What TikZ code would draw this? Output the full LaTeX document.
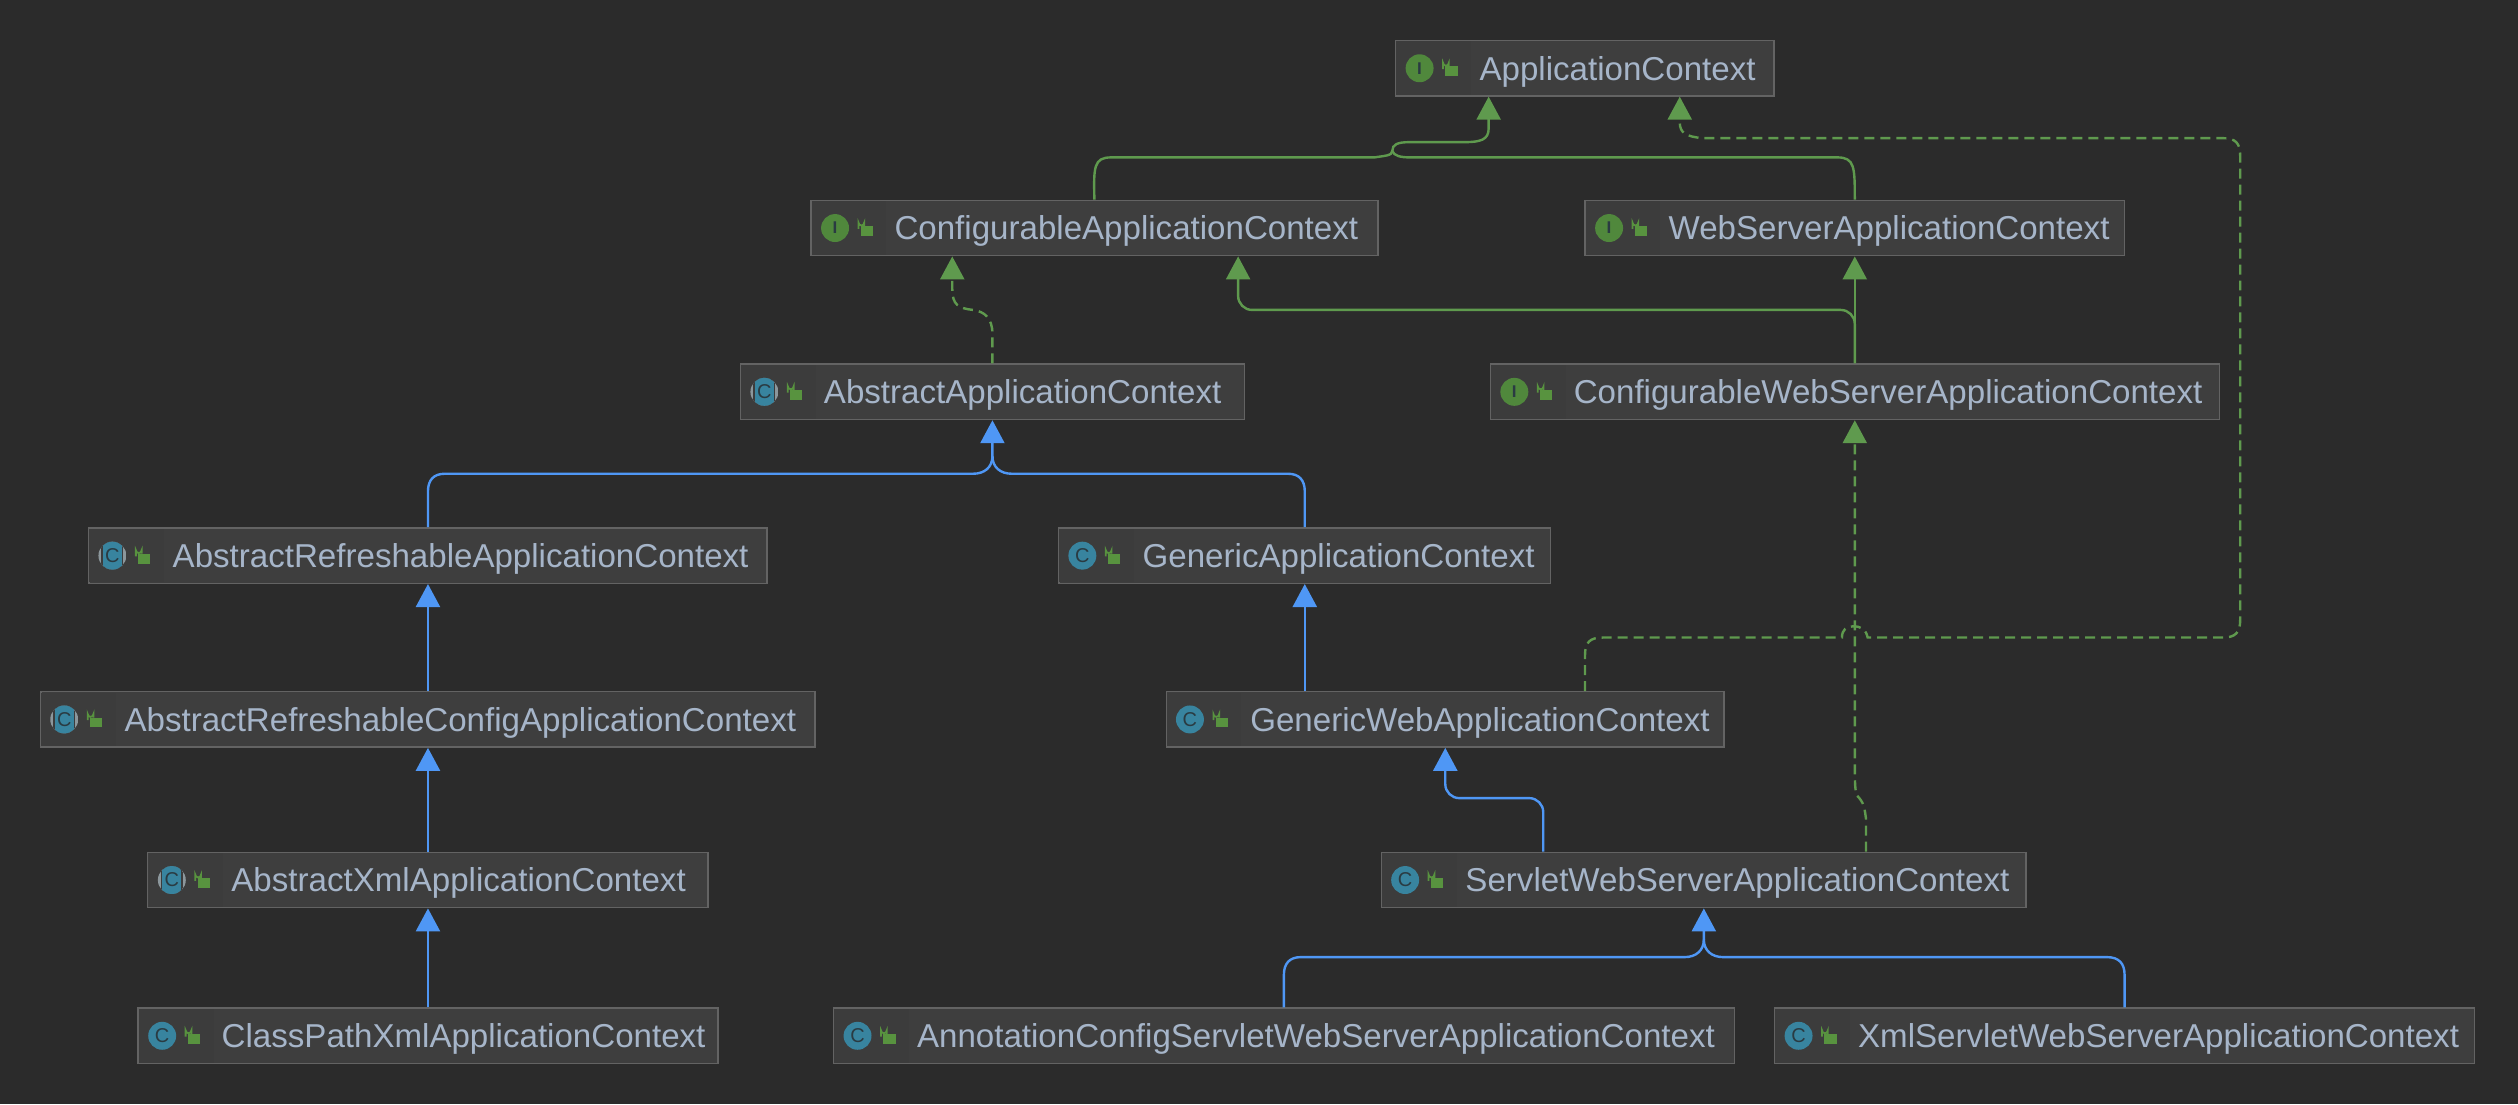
\documentclass[tikz,border=0pt]{standalone}
\usepackage{fontspec}
\setmainfont{Liberation Sans}
\usetikzlibrary{arrows.meta}
\definecolor{canvasgray}{HTML}{2B2B2B}
\definecolor{boxgray}{HTML}{3E3E3E}
\definecolor{columngray}{HTML}{3C3C3C}
\definecolor{edgegray}{HTML}{636363}
\definecolor{labelblue}{HTML}{A6B5C9}
\definecolor{implgreen}{HTML}{5F9A4E}
\definecolor{extblue}{HTML}{4F97F5}
\definecolor{markgreen}{HTML}{50883C}
\definecolor{markteal}{HTML}{38849F}
\definecolor{markgray}{HTML}{8C979C}
\definecolor{markdark}{HTML}{2A3B42}
\definecolor{lockgreen}{HTML}{58933F}
\tikzset{
	classbox/.style={draw=edgegray,fill=boxgray,line width=0.7pt,text=labelblue,inner xsep=0pt,inner ysep=0pt,
		minimum height=27.7pt,align=left,font=\fontsize{16.55}{20}\selectfont,
		execute at begin node=\hspace*{41.8pt}\rule{0pt}{15.2pt}},
	extline/.style={draw=extblue,line width=1.2pt,-{Triangle[width=12pt,length=11.5pt]}},
	extrounded/.style={extline,rounded corners=7pt},
	extjoin/.style={draw=extblue,line width=1.2pt},
	implline/.style={draw=implgreen,line width=1.2pt,-{Triangle[width=12pt,length=11.5pt]}},
	implrounded/.style={implline,rounded corners=7pt},
	impljoin/.style={draw=implgreen,line width=1.2pt},
	impldash/.style={implline,dash pattern=on 5pt off 3pt},
	plainlock/.pic={
		\fill[lockgreen] (2,-1.2) rectangle (9.7,5);
		\draw[lockgreen,line width=0.9pt] (0.6,0.5) -- (0.6,-3.4) arc (180:0:1.8) -- (4.2,-1.2);
	},
	ifacemark/.pic={
		\fill[columngray] (-14.5,-16.7) rectangle (32,16.7);
		\fill[markgreen] (0,0) circle (8.7);
		\node[text=markdark,inner sep=0pt,font=\rmfamily\bfseries\fontsize{8.5}{9}\selectfont] (letter) at (0,0) {I};
		\pic at (14,0) {plainlock};
	},
	classmark/.pic={
		\fill[columngray] (-14.5,-16.7) rectangle (32,16.7);
		\fill[markteal] (0,0) circle (8.7);
		\node[text=markdark,inner sep=0pt,font=\fontsize{10}{10}\selectfont] (letter) at (0,0) {C};
		\pic at (14,0) {plainlock};
	},
	abstractmark/.pic={
		\fill[columngray] (-14.5,-16.7) rectangle (32,16.7);
		\begin{scope}
			\clip (0,0) circle (8.7);
			\fill[markgray] (-9,-9) rectangle (9,9);
			\fill[columngray] (-6.8,-9) rectangle (6.8,9);
			\fill[markteal] (-6,-9) rectangle (6,9);
		\end{scope}
		\node[text=markdark,inner sep=0pt,font=\fontsize{10}{10}\selectfont] (letter) at (0,0) {C};
		\pic at (14,0) {plainlock};
	},
}
\begin{document}
\begin{tikzpicture}[x=0.803pt,y=-0.803pt]
	\fill[canvasgray] (0,0) rectangle (1568,687.5);

	% classes, top to bottom
	\node[classbox,text width=189pt] (appctx) at (987,42.5) {ApplicationContext};
	\node[classbox,text width=283.5pt] (confctx) at (681.5,142) {ConfigurableApplicationContext};
	\node[classbox,text width=269.8pt] (webctx) at (1155,142) {WebServerApplicationContext};
	\node[classbox,text width=252.1pt] (absctx) at (618,244) {AbstractApplicationContext};
	\node[classbox,text width=364.6pt] (confwebctx) at (1155,244) {ConfigurableWebServerApplicationContext};
	\node[classbox,text width=338.9pt] (refreshctx) at (266.5,346) {AbstractRefreshableApplicationContext};
	\node[classbox,text width=245.7pt] (genctx) at (812.5,346) {GenericApplicationContext};
	\node[classbox,text width=387pt] (refreshconfctx) at (266.5,448) {AbstractRefreshableConfigApplicationContext};
	\node[classbox,text width=278.6pt] (genwebctx) at (900,448) {GenericWebApplicationContext};
	\node[classbox,text width=280.2pt] (absxmlctx) at (266.5,548) {AbstractXmlApplicationContext};
	\node[classbox,text width=322pt] (servletctx) at (1061,548) {ServletWebServerApplicationContext};
	\node[classbox,text width=289.9pt] (pathxmlctx) at (266.5,645) {ClassPathXmlApplicationContext};
	\node[classbox,text width=450.5pt] (annoctx) at (799.5,645) {AnnotationConfigServletWebServerApplicationContext};
	\node[classbox,text width=350.1pt] (xmlctx) at (1323,645) {XmlServletWebServerApplicationContext};

	% icons
	\pic (appicon) at (884,42.5) {ifacemark};
	\pic (conficon) at (520,142) {ifacemark};
	\pic (webicon) at (1002,142) {ifacemark};
	\pic (absicon) at (476,244) {abstractmark};
	\pic (confwebicon) at (943,244) {ifacemark};
	\pic (refreshicon) at (70,346) {abstractmark};
	\pic (genicon) at (674,346) {classmark};
	\pic (refreshconficon) at (40,448) {abstractmark};
	\pic (genwebicon) at (741,448) {classmark};
	\pic (absxmlicon) at (107,548) {abstractmark};
	\pic (servleticon) at (875,548) {classmark};
	\pic (pathxmlicon) at (101,645) {classmark};
	\pic (annoicon) at (534,645) {classmark};
	\pic (xmlicon) at (1120,645) {classmark};

	% implements, green
	\draw[implline] (confctx.north) .. controls (681,104) and (681,98) .. (692,98) -- (856,98) .. controls (862,97) and (867,97) .. (867,94) .. controls (867,90) and (870,88.5) .. (878,88.5) -- (912,88.5) .. controls (922,88.5) and (927,87) .. (927,80) -- (appctx.south -| 927,0);
	\draw[impljoin] (webctx.north) .. controls (1155,104) and (1155,98) .. (1144,98) -- (878,98) .. controls (872,98) and (868,97) .. (867,94);
	\draw[impldash] (genwebctx.north -| 987,0) -- (987,408) .. controls (987,400) and (990,397) .. (998,397) -- (1147,397) .. controls (1147,392) and (1150,390) .. (1154,390) .. controls (1159,390) and (1162,392) .. (1163,397) -- (1384,397) .. controls (1392,397) and (1395,394) .. (1395,386) -- (1395,97) .. controls (1395,89) and (1392,86) .. (1384,86) -- (1060,86) .. controls (1050,85) and (1046,83) .. (1046,76) -- (appctx.south -| 1046,0);
	\draw[impldash] (absctx.north) -- (618,208) .. controls (618,198) and (613,194) .. (606,193) .. controls (597,192) and (593,190) .. (593,180) -- (confctx.south -| 593,0);
	\draw[implrounded] (confwebctx.north) -- (1155,193) -- (771,193) -- (confctx.south -| 771,0);
	\draw[implline] (confwebctx.north) -- (webctx.south);
	\draw[impldash] (servletctx.north -| 1162,0) -- (1162,510) .. controls (1161,503) and (1161,500) .. (1156,495) .. controls (1155,490) and (1155,485) .. (1155,475) -- (confwebctx.south);

	% extends, blue
	\draw[extline] (refreshctx.north) -- (266.5,306) .. controls (266.5,299) and (270,295) .. (277,295) -- (606,295) .. controls (613,295) and (618,291) .. (618,284) -- (absctx.south);
	\draw[extjoin] (genctx.north) -- (812.5,306) .. controls (812.5,299) and (809,295) .. (802,295) -- (630,295) .. controls (623,295) and (618,291) .. (618,284);
	\draw[extline] (refreshconfctx.north) -- (refreshctx.south);
	\draw[extline] (absxmlctx.north) -- (refreshconfctx.south);
	\draw[extline] (pathxmlctx.north) -- (absxmlctx.south);
	\draw[extline] (genwebctx.north -| genctx.north) -- (genctx.south);
	\draw[extrounded] (servletctx.north -| 961,0) -- (961,497) -- (900,497) -- (genwebctx.south);
	\draw[extline] (annoctx.north) -- (799.5,607) .. controls (799.5,600) and (803,596) .. (810,596) -- (1049,596) .. controls (1056,596) and (1061,592) .. (1061,585) -- (servletctx.south);
	\draw[extjoin] (xmlctx.north) -- (1323,607) .. controls (1323,600) and (1319.5,596) .. (1312,596) -- (1073,596) .. controls (1066,596) and (1061,592) .. (1061,585);
\end{tikzpicture}
\end{document}
